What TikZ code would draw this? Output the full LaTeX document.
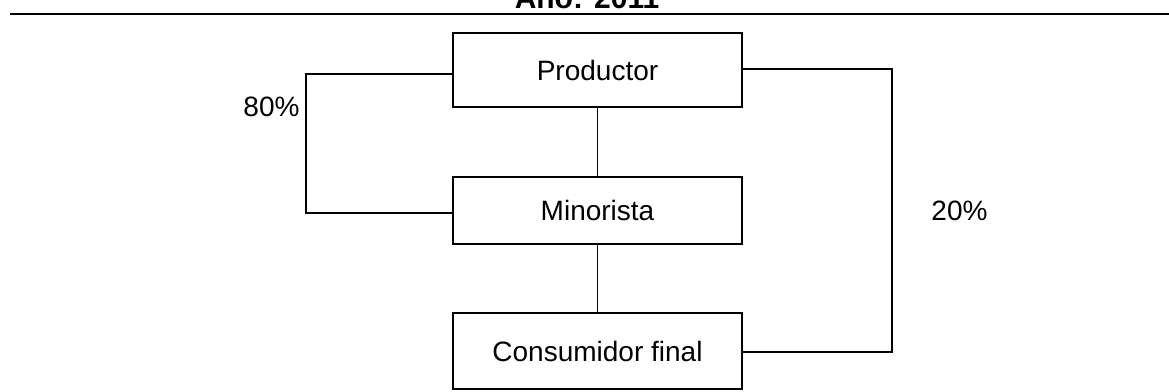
\documentclass[tikz,border=0pt]{standalone}
\usepackage{fontspec}
\setmainfont{Liberation Sans}
\begin{document}
\begin{tikzpicture}[x=1pt,y=-1pt,
  box/.style={draw, line width=1.5pt, rectangle, minimum width=289pt, inner sep=0pt, font=\fontsize{28}{34}\selectfont},
  conn/.style={draw, line width=1.5pt},
  lbl/.style={font=\fontsize{28}{34}\selectfont, inner sep=0pt}]
\useasboundingbox (0,0) rectangle (1169,391);
\clip (0,0) rectangle (1169,391);
\node[anchor=base, font=\bfseries\fontsize{30}{36}\selectfont, inner sep=0pt] (title) at (587,8) {Año: 2011};
\coordinate (rl) at (10,14);
\coordinate (rr) at (1169,14);
\draw[line width=1.8pt] (rl) -- (rr);
\node[box, minimum height=74pt] (prod) at (597.5,70) {Productor};
\node[box, minimum height=67pt] (mino) at (597.5,210.5) {Minorista};
\node[box, minimum height=76pt] (cons) at (597.5,351) {Consumidor final};
\coordinate (lc) at (306,140);
\coordinate (rc) at (892,200);
\draw[conn] ([yshift=-4pt]prod.west) -| (lc) |- ([yshift=-2.5pt]mino.west);
\draw[conn] ([yshift=1pt]prod.east) -| (rc) |- ([yshift=-1pt]cons.east);
\draw[conn] (prod.south) -- (mino.north);
\draw[conn] (mino.south) -- (cons.north);
\node[lbl] (p80) at (271.5,107) {80\%};
\node[lbl] (p20) at (959.5,211) {20\%};
\end{tikzpicture}
\end{document}
